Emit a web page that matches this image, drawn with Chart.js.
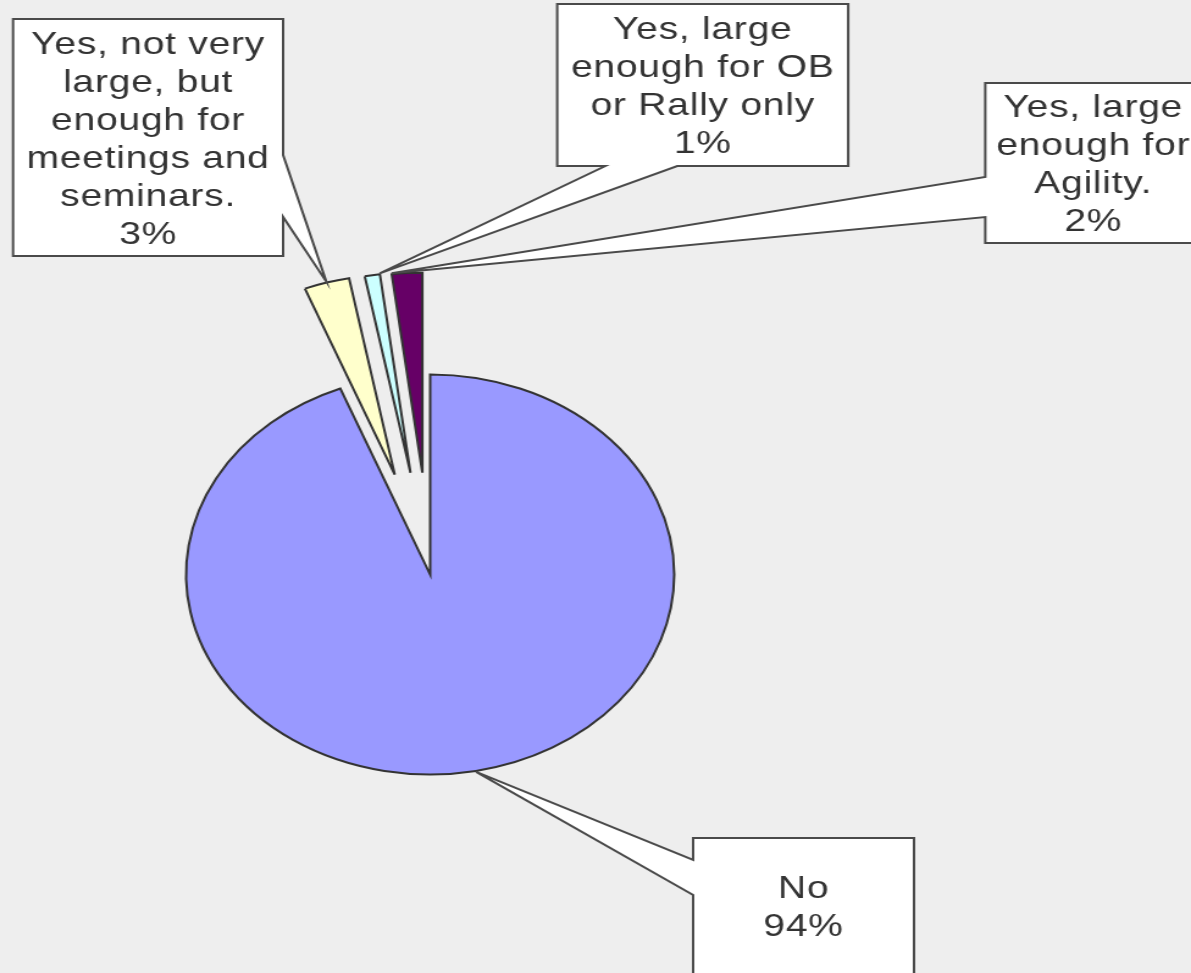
<!DOCTYPE html>
<html>
<head>
<meta charset="utf-8">
<script src="https://cdn.jsdelivr.net/npm/chart.js@4"></script>
<style>
  html, body { margin: 0; padding: 0; background: #eeeeee; overflow: hidden; }
  #chart { display: block; }
</style>
</head>
<body>
<!-- the original picture is stretched sideways, so the canvas is too -->
<canvas id="chart" width="976" height="973" style="width:1191px;height:973px"></canvas>
<script>
// wrapped category text as it shows in the callouts
const categoryLines = [
  ['No'],
  ['Yes, not very', 'large, but', 'enough for', 'meetings and', 'seminars.'],
  ['Yes, large', 'enough for OB', 'or Rally only'],
  ['Yes, large', 'enough for', 'Agility.']
];
const categories = categoryLines.map(l => l.join(' '));
const values = [94, 3, 1, 2];

const sliceColors = ['#9999ff', '#ffffcc', '#ccffff', '#660066'];
// how far each slice is pulled out of the pie, px
const sliceExplode = [0, 104, 103, 102];

// callout boxes (canvas units), side = where the pointer leaves the box
const callouts = [
  { x: 568, y: 838, w: 181, h: 136, side: 'left', a: 860, b: 895, frac: 0.5 },
  { x: 10.7, y: 19, w: 221.3, h: 237, side: 'right', a: 155, b: 217, frac: 0.5 },
  { x: 456.6, y: 4, w: 238.5, h: 162, side: 'bottom', a: 496, b: 555, frac: 1 },
  { x: 807.4, y: 83, w: 177, h: 160, side: 'left', a: 177, b: 217, frac: 0 }
];

const FONT_SIZE = 32;
const LINE_H = 38;

function sliceAnchor(arc, frac) {
  const a = arc.startAngle + frac * (arc.endAngle - arc.startAngle);
  const r = arc.outerRadius + 1;
  return { x: arc.x + Math.cos(a) * r, y: arc.y + Math.sin(a) * r };
}

function boxPath(ctx, c, tip) {
  const L = c.x, R = c.x + c.w, T = c.y, B = c.y + c.h;
  const lo = Math.min(c.a, c.b), hi = Math.max(c.a, c.b);
  ctx.beginPath();
  ctx.moveTo(L, T);
  if (c.side === 'top') { ctx.lineTo(lo, T); ctx.lineTo(tip.x, tip.y); ctx.lineTo(hi, T); }
  ctx.lineTo(R, T);
  if (c.side === 'right') { ctx.lineTo(R, lo); ctx.lineTo(tip.x, tip.y); ctx.lineTo(R, hi); }
  ctx.lineTo(R, B);
  if (c.side === 'bottom') { ctx.lineTo(hi, B); ctx.lineTo(tip.x, tip.y); ctx.lineTo(lo, B); }
  ctx.lineTo(L, B);
  if (c.side === 'left') { ctx.lineTo(L, hi); ctx.lineTo(tip.x, tip.y); ctx.lineTo(L, lo); }
  ctx.closePath();
}

// pull slices out along their middle angle, keeping their radius
const explodePlugin = {
  id: 'explode',
  afterDatasetsUpdate(chart) {
    const meta = chart.getDatasetMeta(0);
    meta.data.forEach((arc, i) => {
      const d = sliceExplode[i] || 0;
      const half = (arc.startAngle + arc.endAngle) / 2;
      arc.x += Math.cos(half) * d;
      arc.y += Math.sin(half) * d;
    });
  }
};

const calloutPlugin = {
  id: 'callouts',
  afterDatasetsDraw(chart) {
    const ctx = chart.ctx;
    const meta = chart.getDatasetMeta(0);
    ctx.save();
    callouts.forEach((c, i) => {
      const tip = sliceAnchor(meta.data[i], c.frac);
      boxPath(ctx, c, tip);
      ctx.fillStyle = '#ffffff';
      ctx.fill();
      ctx.lineWidth = 2;
      ctx.lineJoin = 'miter';
      ctx.strokeStyle = '#4a4a4a';
      ctx.stroke();

      const lines = categoryLines[i].concat([values[i] + '%']);
      ctx.fillStyle = '#333333';
      ctx.font = FONT_SIZE + "px 'Liberation Sans', Arial, sans-serif";
      ctx.letterSpacing = '0.6px';
      ctx.textAlign = 'center';
      ctx.textBaseline = 'alphabetic';
      const mid = c.y + c.h / 2;
      lines.forEach((t, k) => {
        const capMid = mid + (k - (lines.length - 1) / 2) * LINE_H;
        ctx.fillText(t, c.x + c.w / 2, capMid + FONT_SIZE * 0.358);
      });
    });
    ctx.restore();
  }
};

const bgPlugin = {
  id: 'bg',
  beforeDraw(chart) {
    const ctx = chart.ctx;
    ctx.save();
    ctx.fillStyle = '#eeeeee';
    ctx.fillRect(0, 0, chart.width, chart.height);
    ctx.restore();
  }
};

new Chart(document.getElementById('chart'), {
  type: 'pie',
  data: {
    labels: categories,
    datasets: [{
      data: values,
      backgroundColor: sliceColors,
      borderColor: '#333333',
      borderWidth: 2,
      borderJoinStyle: 'miter',
      radius: 200
    }]
  },
  options: {
    responsive: false,
    animation: false,
    events: [],
    layout: { padding: { left: 0, right: 271, top: 176, bottom: 0 } },
    plugins: {
      legend: { display: false },
      tooltip: { enabled: false }
    }
  },
  plugins: [bgPlugin, explodePlugin, calloutPlugin]
});
</script>
</body>
</html>
